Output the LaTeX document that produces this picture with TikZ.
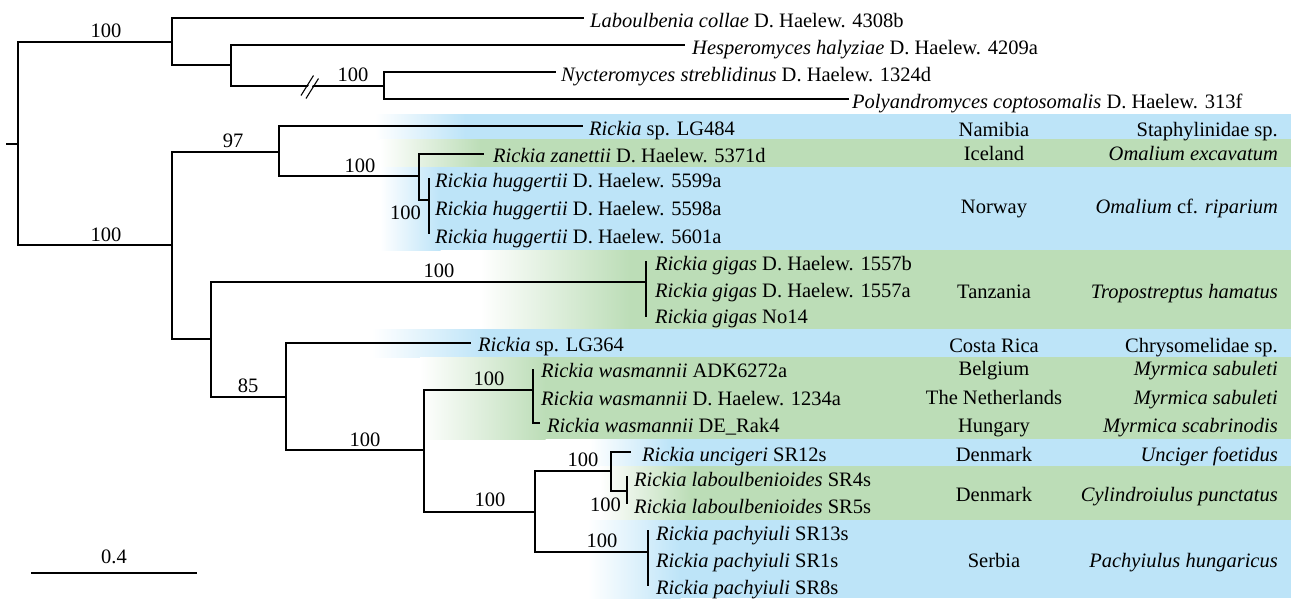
\documentclass[tikz,border=0pt]{standalone}
\usepackage{fontspec}
\setmainfont{Liberation Serif}
\definecolor{bandblue}{RGB}{189,228,248}
\definecolor{bandgreen}{RGB}{188,221,183}
\tikzset{
  br/.style={line width=1.3pt, line cap=rect},
  tip/.style={anchor=base west, inner sep=0pt},
  sup/.style={anchor=base, inner sep=0pt},
  ctry/.style={anchor=base, inner sep=0pt},
  host/.style={anchor=base east, inner sep=0pt}
}
\newcommand{\band}[5]{% color, y0, y1, xstart, xsolid
  \shade[left color=white, right color=#1] (#4,#2) rectangle (#5+0.5,#3);
  \fill[#1] (#5,#2) rectangle (1291,#3);}
\begin{document}
\begin{tikzpicture}[x=1pt,y=-1pt,font=\fontsize{20.5}{24}\selectfont]
\useasboundingbox (0,0) rectangle (1291,598);
\fill[white] (0,0) rectangle (1291,598);
% ---- colour bands
\band{bandblue}{114}{139}{375}{465}
\band{bandgreen}{139}{167}{380}{480}
\band{bandblue}{167}{250}{380}{440}
\band{bandgreen}{250}{329}{480}{630}
\band{bandblue}{329}{357}{372}{485}
\band{bandgreen}{357}{439}{420}{545}
\band{bandblue}{439}{466}{590}{670}
\band{bandgreen}{466}{520}{600}{690}
\band{bandblue}{520}{598}{588}{680}
% ---- tree coordinates
\coordinate (rs) at (7,144);
\coordinate (r) at (18,144);
\coordinate (n1) at (172,42);
\coordinate (n2) at (231,65);
\coordinate (n3) at (384,86);
\coordinate (n4) at (172,245);
\coordinate (n5) at (279,152);
\coordinate (n6) at (419,176);
\coordinate (n7) at (429,200);
\coordinate (n7a) at (429,179);
\coordinate (n7b) at (429,233);
\coordinate (n8) at (211,339);
\coordinate (n9) at (646,282);
\coordinate (n9a) at (646,262);
\coordinate (n9b) at (646,316);
\coordinate (n10) at (286,397);
\coordinate (n11) at (424,450);
\coordinate (n12) at (533,390);
\coordinate (n12a) at (533,370);
\coordinate (n12b) at (539,423);
\coordinate (n13) at (535,512);
\coordinate (n14) at (611,471);
\coordinate (n15) at (627,491);
\coordinate (n15a) at (627,477);
\coordinate (n15b) at (627,503);
\coordinate (n16) at (648,552);
\coordinate (n16a) at (648,531);
\coordinate (n16b) at (648,585);
% tip ends
\coordinate (e1) at (583,18);
\coordinate (e2) at (684,45);
\coordinate (e3) at (555,72);
\coordinate (e4) at (848,99);
\coordinate (e5) at (582,126);
\coordinate (e6) at (483,154);
\coordinate (e7) at (470,343);
\coordinate (e8) at (630,452);
% ---- branches
\draw[br] (rs) -- (r);
\draw[br] (r) |- (n1);
\draw[br] (r) |- (n4);
\draw[br] (n1) |- (e1);
\draw[br] (n1) |- (n2);
\draw[br] (n2) |- (e2);
\draw[br] (n2) |- (n3);
\draw[br] (n3) |- (e3);
\draw[br] (n3) |- (e4);
\draw[br] (n4) |- (n5);
\draw[br] (n4) |- (n8);
\draw[br] (n5) |- (e5);
\draw[br] (n5) |- (n6);
\draw[br] (n6) |- (e6);
\draw[br] (n6) |- (n7);
\draw[br] (n7a) -- (n7b);
\draw[br] (n8) |- (n9);
\draw[br] (n8) |- (n10);
\draw[br] (n9a) -- (n9b);
\draw[br] (n10) |- (e7);
\draw[br] (n10) |- (n11);
\draw[br] (n11) |- (n12);
\draw[br] (n11) |- (n13);
\draw[br] (n12a) |- (n12b);
\draw[br] (n13) |- (n14);
\draw[br] (n13) |- (n16);
\draw[br] (n14) |- (e8);
\draw[br] (n14) |- (n15);
\draw[br] (n15a) -- (n15b);
\draw[br] (n16a) -- (n16b);
% ---- break mark
\draw[white, line width=3.2pt] (303.5,97) -- (316,77);
\draw[line width=1.1pt] (301,95.5) -- (313.5,75.5);
\draw[line width=1.1pt] (306,98.5) -- (318.5,78.5);
% ---- support values
\node[sup] (s1) at (106,37) {100};
\node[sup] (s2) at (353,81) {100};
\node[sup] (s3) at (233,147) {97};
\node[sup] (s4) at (360,172) {100};
\node[sup] (s5) at (106,241) {100};
\node[anchor=base east, inner sep=0pt] (s6) at (421,219) {100};
\node[sup] (s7) at (439,277) {100};
\node[sup] (s8) at (248,392) {85};
\node[sup] (s9) at (365,446) {100};
\node[sup] (s10) at (489,385) {100};
\node[sup] (s11) at (490,506) {100};
\node[sup] (s12) at (583,466) {100};
\node[anchor=base east, inner sep=0pt] (s13) at (621,511) {100};
\node[sup] (s14) at (602,547) {100};
% ---- tip labels
\node[tip] (t1) at (590,27) {\textit{Laboulbenia collae} D. Haelew. 4308b};
\node[tip] (t2) at (692,54) {\textit{Hesperomyces halyziae} D. Haelew. 4209a};
\node[tip] (t3) at (561,81) {\textit{Nycteromyces streblidinus} D. Haelew. 1324d};
\node[tip] (t4) at (852,108) {\textit{Polyandromyces coptosomalis} D. Haelew. 313f};
\node[tip] (t5) at (589,135) {\textit{Rickia} sp. LG484};
\node[tip] (t6) at (493,162) {\textit{Rickia zanettii} D. Haelew. 5371d};
\node[tip] (t7) at (435,187) {\textit{Rickia huggertii} D. Haelew. 5599a};
\node[tip] (t8) at (435,215) {\textit{Rickia huggertii} D. Haelew. 5598a};
\node[tip] (t9) at (435,243) {\textit{Rickia huggertii} D. Haelew. 5601a};
\node[tip] (t10) at (655,270) {\textit{Rickia gigas} D. Haelew. 1557b};
\node[tip] (t11) at (655,297) {\textit{Rickia gigas} D. Haelew. 1557a};
\node[tip] (t12) at (655,323) {\textit{Rickia gigas} No14};
\node[tip] (t13) at (478,351) {\textit{Rickia} sp. LG364};
\node[tip] (t14) at (541,377) {\textit{Rickia wasmannii} ADK6272a};
\node[tip] (t15) at (541,405) {\textit{Rickia wasmannii} D. Haelew. 1234a};
\node[tip] (t16) at (547,432) {\textit{Rickia wasmannii} DE\_Rak4};
\node[tip] (t17) at (642,461) {\textit{Rickia uncigeri} SR12s};
\node[tip] (t18) at (634,486) {\textit{Rickia laboulbenioides} SR4s};
\node[tip] (t19) at (634,513) {\textit{Rickia laboulbenioides} SR5s};
\node[tip] (t20) at (656,540) {\textit{Rickia pachyiuli} SR13s};
\node[tip] (t21) at (656,567) {\textit{Rickia pachyiuli} SR1s};
\node[tip] (t22) at (656,594) {\textit{Rickia pachyiuli} SR8s};
% ---- countries
\node[ctry] (c1) at (994,136) {Namibia};
\node[ctry] (c2) at (994,160) {Iceland};
\node[ctry] (c3) at (994,213) {Norway};
\node[ctry] (c4) at (994,298) {Tanzania};
\node[ctry] (c5) at (994,352) {Costa Rica};
\node[ctry] (c6) at (994,375) {Belgium};
\node[ctry] (c7) at (994,404) {The Netherlands};
\node[ctry] (c8) at (994,432) {Hungary};
\node[ctry] (c9) at (994,461) {Denmark};
\node[ctry] (c10) at (994,501) {Denmark};
\node[ctry] (c11) at (994,567) {Serbia};
% ---- hosts
\node[host] (h1) at (1278,136) {Staphylinidae sp.};
\node[host] (h2) at (1278,160) {\textit{Omalium excavatum}};
\node[host] (h3) at (1278,213) {\textit{Omalium} cf. \textit{riparium}};
\node[host] (h4) at (1278,298) {\textit{Tropostreptus hamatus}};
\node[host] (h5) at (1278,352) {Chrysomelidae sp.};
\node[host] (h6) at (1278,375) {\textit{Myrmica sabuleti}};
\node[host] (h7) at (1278,404) {\textit{Myrmica sabuleti}};
\node[host] (h8) at (1278,432) {\textit{Myrmica scabrinodis}};
\node[host] (h9) at (1278,461) {\textit{Unciger foetidus}};
\node[host] (h10) at (1278,501) {\textit{Cylindroiulus punctatus}};
\node[host] (h11) at (1278,567) {\textit{Pachyiulus hungaricus}};
% ---- scale bar
\coordinate (sb1) at (31,573);
\coordinate (sb2) at (197,573);
\draw[br, line cap=butt] (sb1) -- (sb2);
\node[sup] (sbl) at (114,563) {0.4};
\end{tikzpicture}
\end{document}
